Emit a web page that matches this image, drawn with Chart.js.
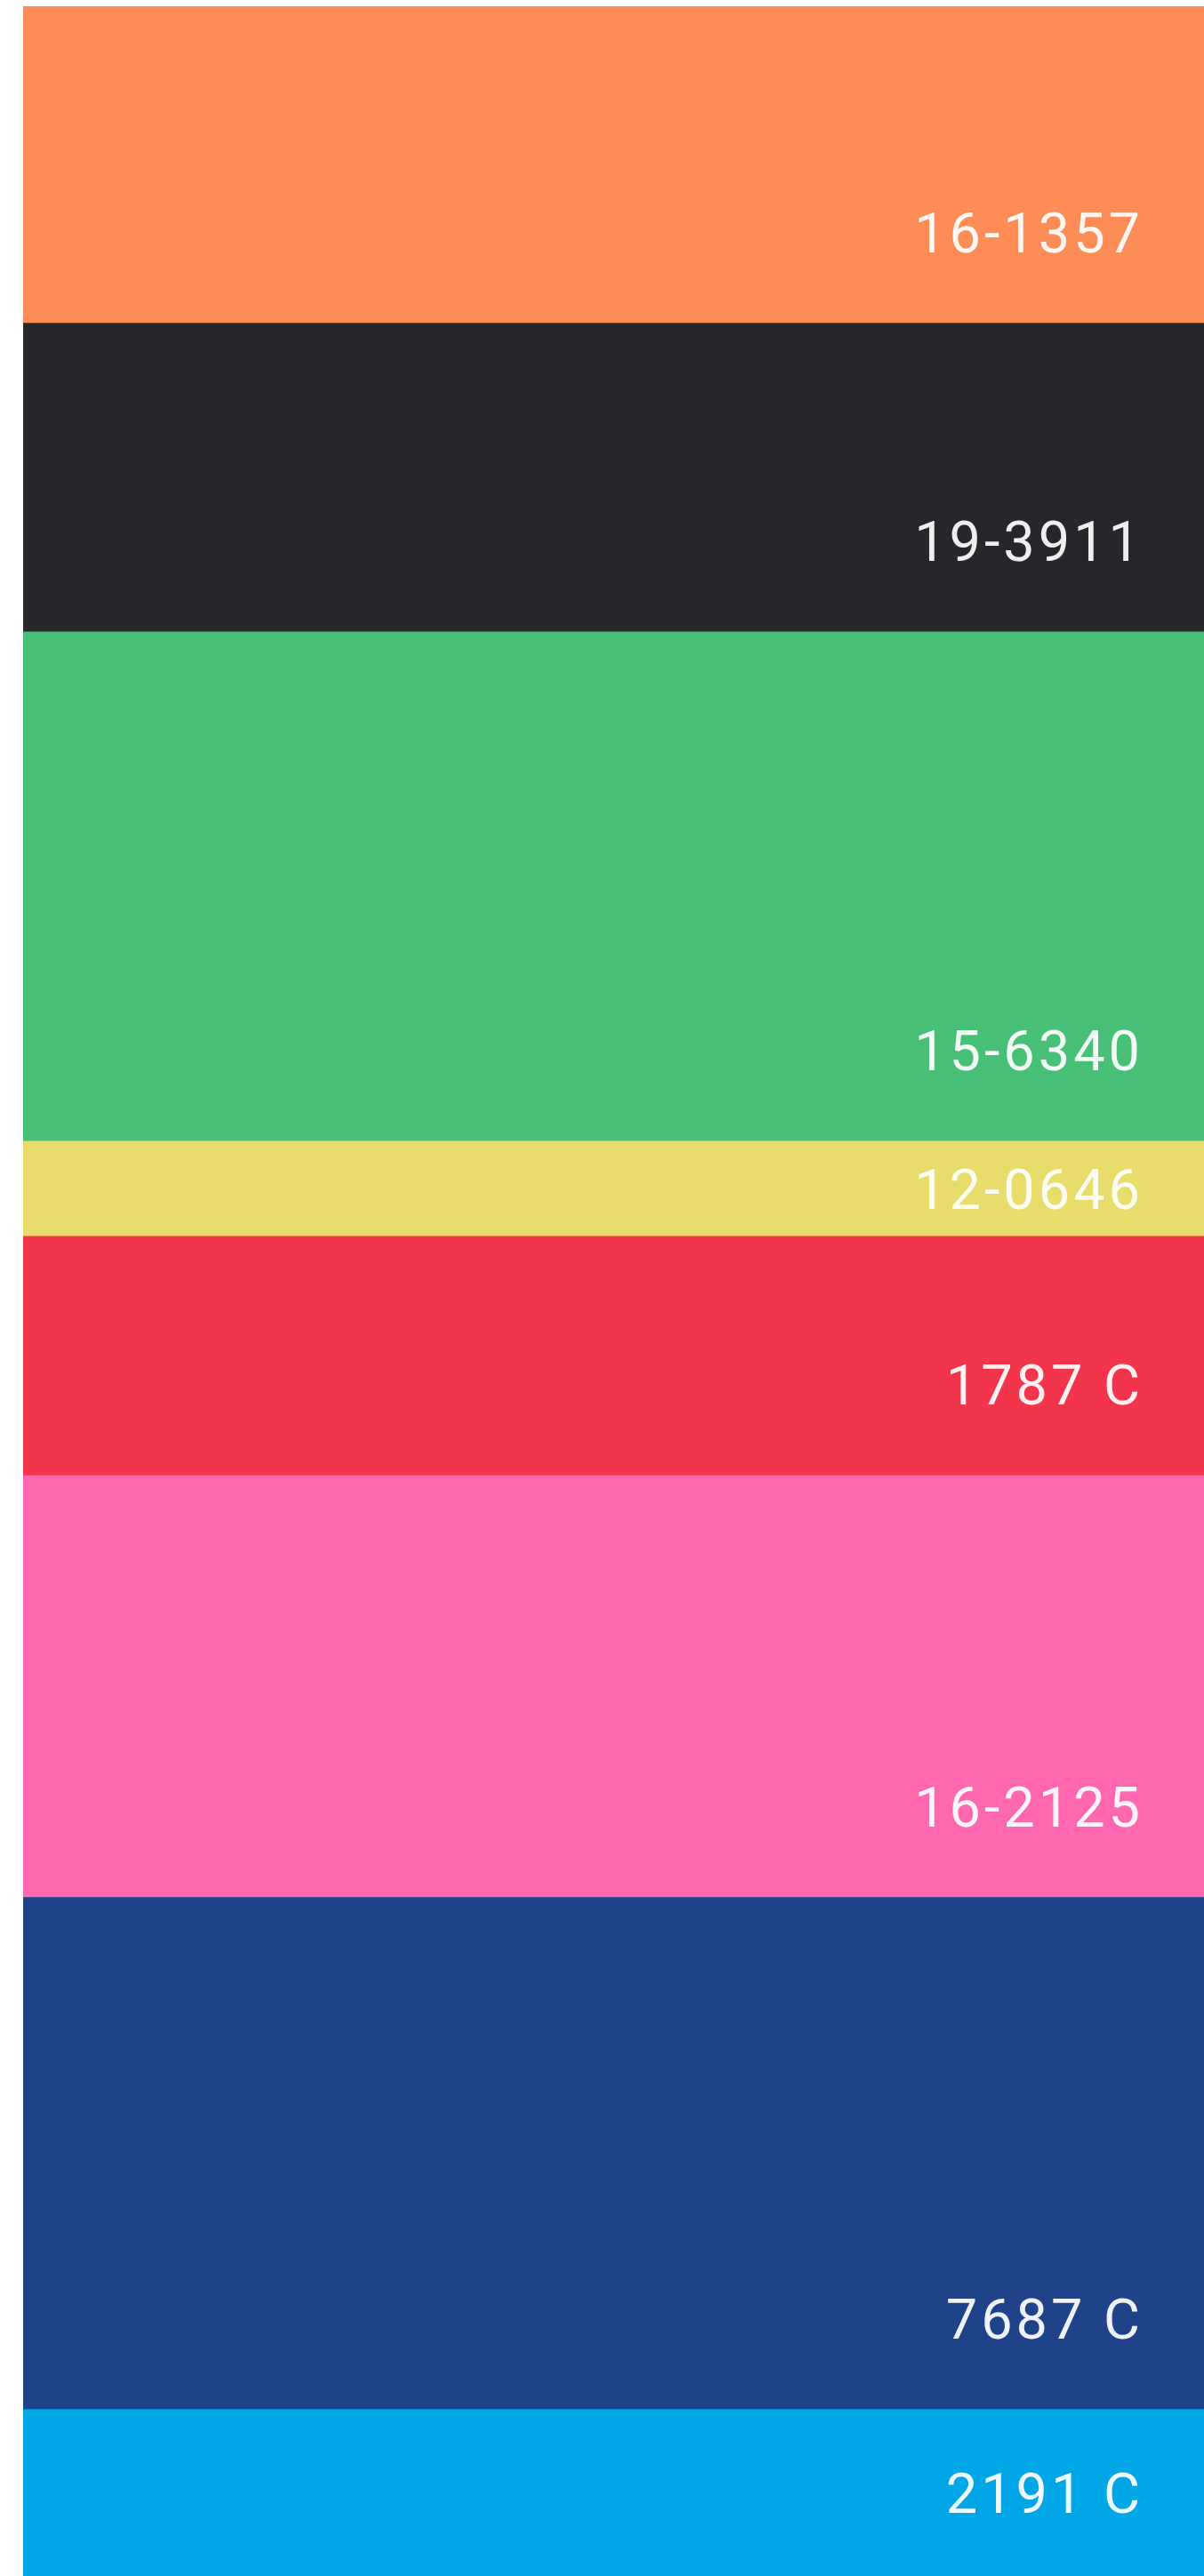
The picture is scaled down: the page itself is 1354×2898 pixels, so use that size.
<!DOCTYPE html>
<html>
<head>
<meta charset="utf-8">
<script src="https://cdn.jsdelivr.net/npm/chart.js@4/dist/chart.umd.min.js"></script>
<style>
  html, body { margin: 0; padding: 0; background: #ffffff; }
  #wrap { width: 1354px; height: 2898px; position: relative; }
</style>
</head>
<body>
<div id="wrap"><canvas id="c"></canvas></div>
<script>
// Colour codes (stack order, top to bottom)
const codes = ['16-1357', '19-3911', '15-6340', '12-0646', '1787 C', '16-2125', '7687 C', '2191 C'];
const shares = [12.3, 12.0, 19.8, 3.7, 9.3, 16.4, 19.9, 6.5];
// Fill colours
const colors = ['#FE8C56', '#27272B', '#48BF76', '#E8DC6A', '#F3354B', '#FF68AE', '#1E4389', '#00A6E6'];
const categories = ['palette'];

const total = shares.reduce((a, b) => a + b, 0);

const labelPlugin = {
  id: 'bandLabels',
  afterDatasetsDraw(chart) {
    const ctx = chart.ctx;
    const area = chart.chartArea;
    ctx.save();
    ctx.font = '400 63px Roboto, "DejaVu Sans", sans-serif';
    if ('letterSpacing' in ctx) ctx.letterSpacing = '4px';
    ctx.fillStyle = 'rgba(255,255,255,0.93)';
    ctx.textAlign = 'right';
    ctx.textBaseline = 'alphabetic';
    chart.data.datasets.forEach((ds, i) => {
      const meta = chart.getDatasetMeta(i);
      const el = meta.data[0];
      if (!el) return;
      const top = Math.min(el.y, el.base);
      const bottom = Math.max(el.y, el.base);
      const mid = (top + bottom) / 2;
      const center = Math.max(mid, bottom - 102);
      ctx.fillText(ds.label, area.right - 68, center + 23);
    });
    ctx.restore();
  }
};

new Chart(document.getElementById('c'), {
  type: 'bar',
  data: {
    labels: categories,
    datasets: codes.map((code, i) => ({
      label: code,
      data: [shares[i]],
      backgroundColor: colors[i],
      borderWidth: 0,
      categoryPercentage: 1,
      barPercentage: 1
    }))
  },
  options: {
    responsive: true,
    maintainAspectRatio: false,
    animation: false,
    layout: { padding: { left: 26, top: 7, right: 0, bottom: 0 } },
    plugins: { legend: { display: false }, tooltip: { enabled: false } },
    scales: {
      x: { stacked: true, display: false },
      y: { stacked: true, display: false, reverse: true, min: 0, max: total }
    }
  },
  plugins: [labelPlugin]
});
</script>
</body>
</html>
